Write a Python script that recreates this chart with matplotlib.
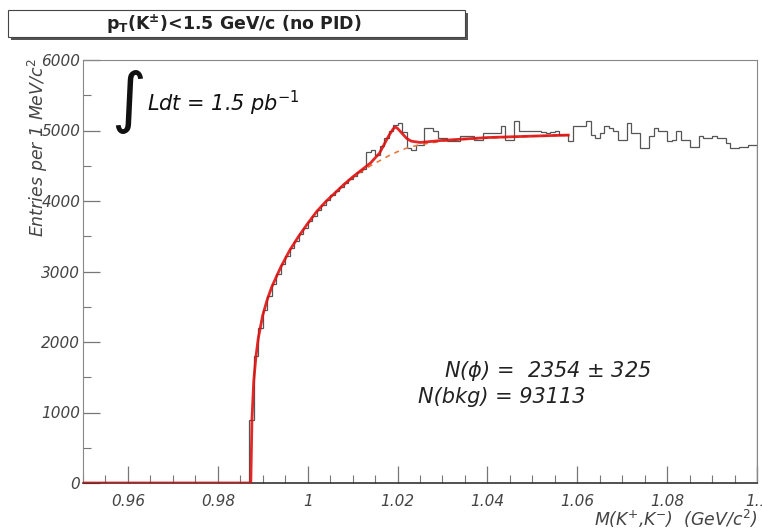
import numpy as np
import matplotlib
matplotlib.use("Agg")
import matplotlib.pyplot as plt
from matplotlib.patches import Rectangle

# histogram: 1 MeV/c^2 bins from 0.950 to 1.100 GeV/c^2
bin_edges = np.round(np.arange(0.950, 1.1005, 0.001), 3)
counts = [0] * 37 + [
    900, 1800, 2200, 2450, 2650, 2820, 2970, 3100, 3220, 3330,
    3430, 3530, 3620, 3710, 3790, 3870, 3950, 4020, 4080, 4140,
    4200, 4260, 4310, 4360, 4410, 4460, 4700, 4720, 4650, 4780,
    4900, 5000, 5080, 5100, 4980, 4750, 4720, 4800,
    4800, 5030, 5030, 4990, 4890, 4890, 4845, 4845, 4845, 4920,
    4920, 4920, 4870, 4870, 4960, 4960, 4960, 4960, 5070, 4870,
    4870, 5130, 4990, 4990, 4990, 4990, 4990, 4980, 4960, 4980,
    4990, 4940, 4940, 4850, 5060, 5060, 5060, 5130, 4930, 4900,
    4970, 5070, 5040, 4990, 4870, 4870, 5100, 4960, 4960, 4750,
    4750, 4920, 5030, 4990, 4990, 4850, 4870, 5000, 4870, 4870,
    4770, 4770, 4920, 4890, 4890, 4920, 4890, 4890, 4820, 4750,
    4750, 4770, 4770, 4790, 4790,
]

# fit curve (signal + background)
fit_m = [0.950, 0.98735, 0.9876, 0.988, 0.9885, 0.989, 0.990, 0.991, 0.992,
         0.994, 0.996, 0.998, 1.000, 1.002, 1.004, 1.006, 1.008, 1.010,
         1.012, 1.014, 1.016, 1.017, 1.018, 1.019, 1.0195, 1.020, 1.021,
         1.022, 1.023, 1.025, 1.030, 1.035, 1.040, 1.045, 1.050, 1.055, 1.058]
fit_y = [0, 0, 900, 1450, 1800, 2050, 2380, 2600, 2780,
         3060, 3300, 3500, 3680, 3850, 3990, 4110, 4230, 4340,
         4440, 4540, 4680, 4800, 4920, 5020, 5050, 5030, 4960,
         4890, 4850, 4830, 4860, 4880, 4900, 4910, 4920, 4930, 4935]

# background only
bkg_m = [1.008, 1.010, 1.012, 1.014, 1.016, 1.018, 1.020, 1.022, 1.025,
         1.030, 1.035, 1.040, 1.045, 1.050, 1.055, 1.058]
bkg_y = [4230, 4330, 4420, 4500, 4570, 4640, 4700, 4750, 4800,
         4850, 4875, 4895, 4908, 4918, 4928, 4933]

W, H = 762, 529
fig = plt.figure(figsize=(W / 100, H / 100), dpi=100)

def fx(px):
    return px / W

def fy(py):
    return 1 - py / H

ax = fig.add_axes([fx(83), fy(483), fx(757) - fx(83), fy(60) - fy(483)])

ax.stairs(counts, bin_edges, color="#555555", linewidth=0.9, zorder=2)
ax.plot(bkg_m, bkg_y, color="#e87a3c", linestyle=(0, (3, 3)), linewidth=1.2, zorder=3)
ax.plot(fit_m, fit_y, color="#e01010", linewidth=2.0, alpha=0.9, zorder=4)

ax.set_xlim(0.950, 1.100)
ax.set_ylim(0, 6000)
ax.set_xticks([0.96, 0.98, 1.00, 1.02, 1.04, 1.06, 1.08, 1.10])
ax.set_xticklabels(["0.96", "0.98", "1", "1.02", "1.04", "1.06", "1.08", "1.1"])
ax.set_xticks(np.arange(0.950, 1.1001, 0.005), minor=True)
ax.set_yticks([0, 1000, 2000, 3000, 4000, 5000, 6000])
ax.set_yticks(np.arange(500, 6000, 1000), minor=True)

ax.tick_params(which="both", direction="in", colors="#777777",
               labelcolor="#444444", labelsize=11)
ax.tick_params(which="major", length=12, width=0.9)
ax.tick_params(which="minor", length=6, width=0.8)
ax.tick_params(axis="x", pad=8)
ax.tick_params(axis="y", pad=2)
for lab in ax.get_xticklabels() + ax.get_yticklabels():
    lab.set_fontstyle("italic")

for side in ["left", "top", "right"]:
    ax.spines[side].set_color("#888888")
ax.spines["bottom"].set_color("#333333")
ax.spines["bottom"].set_linewidth(1.2)

# title box with shadow
shadow = Rectangle((fx(11), fy(40)), fx(465) - fx(8), fy(10) - fy(37),
                   transform=fig.transFigure, facecolor="#555555",
                   edgecolor="none", zorder=1)
box = Rectangle((fx(8), fy(37)), fx(465) - fx(8), fy(10) - fy(37),
                transform=fig.transFigure, facecolor="white",
                edgecolor="#444444", linewidth=0.8, zorder=2)
fig.patches.extend([shadow, box])
fig.text(fx(234), fy(24), r"$\mathbf{p_T}$(K$^{\mathbf{\pm}}$)<1.5 GeV/c (no PID)",
         ha="center", va="center", fontsize=12.5, fontweight="bold",
         color="#222222", zorder=3)

# axis labels
fig.text(fx(38), fy(58), r"Entries per 1 MeV/c$^2$", rotation=90,
         ha="center", va="top", fontsize=12.5, style="italic", color="#444444")
fig.text(fx(757), fy(519), r"M(K$^{+}$,K$^{-}$)  (GeV/c$^{2}$)",
         ha="right", va="center", fontsize=12.5, style="italic", color="#444444")

# annotations
fig.text(fx(128), fy(102), r"$\int$", ha="center", va="center",
         fontsize=34, color="#111111")
fig.text(fx(147), fy(103), r"Ldt = 1.5 pb$^{-1}$", ha="left", va="center",
         fontsize=15, style="italic", color="#111111")
fig.text(fx(444), fy(371), r"N($\phi$) =  2354 $\pm$ 325", ha="left", va="center",
         fontsize=15, style="italic", color="#222222")
fig.text(fx(418), fy(397), "N(bkg) = 93113", ha="left", va="center",
         fontsize=15, style="italic", color="#222222")

fig.savefig("out.png", dpi=100)
